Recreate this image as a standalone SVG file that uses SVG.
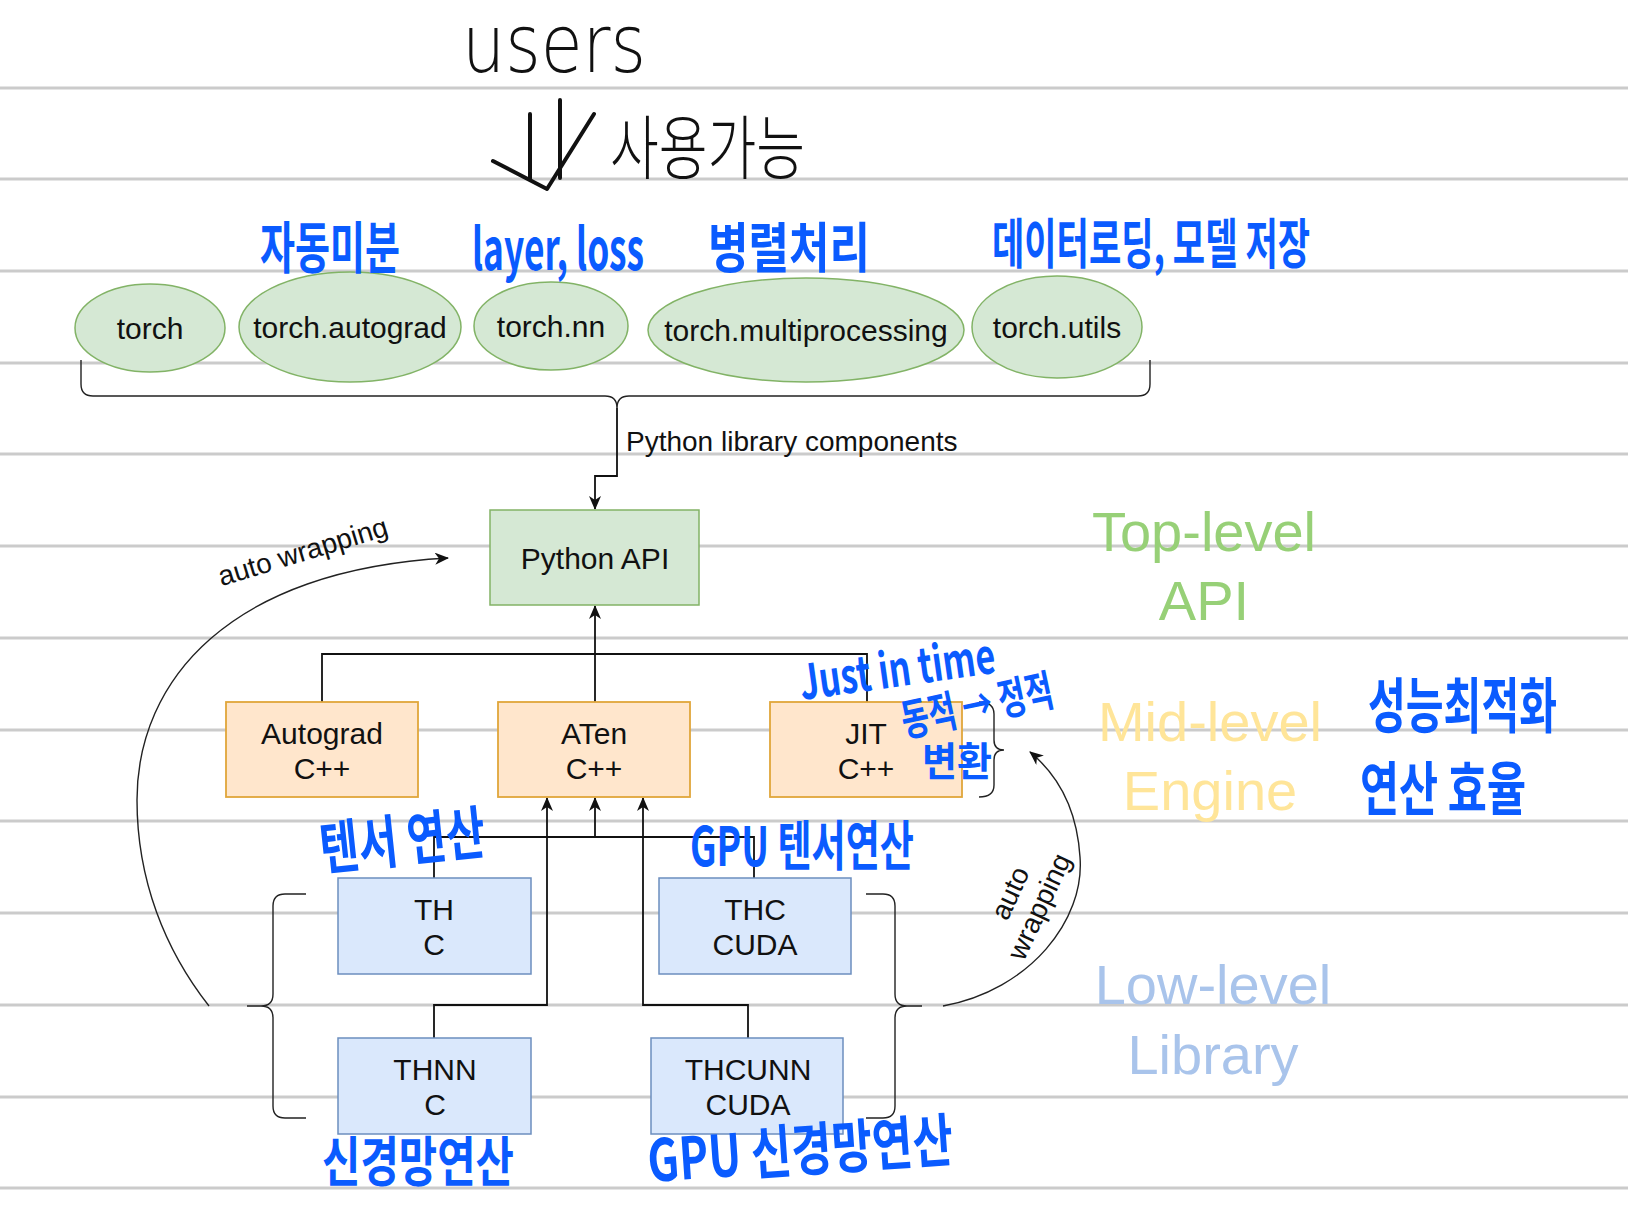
<svg xmlns="http://www.w3.org/2000/svg" width="1628" height="1219" viewBox="0 0 1628 1219">
<defs>
<style>
.rule{stroke:#cbcbcb;stroke-width:3}
.lbl{font-family:"Liberation Sans",Arial,sans-serif;font-size:30px;fill:#111;text-anchor:middle}
.ell{fill:#d5e8d4;stroke:#82b366;stroke-width:1.5}
.g{fill:#d5e8d4;stroke:#82b366;stroke-width:1.5}
.o{fill:#ffe6cc;stroke:#e0a63a;stroke-width:1.8}
.b{fill:#dae8fc;stroke:#6c8ebf;stroke-width:1.5}
.ln{fill:none;stroke:#111;stroke-width:1.8}
.thin{fill:none;stroke:#222;stroke-width:1.4}
.small{font-family:"Liberation Sans",Arial,sans-serif;font-size:28px;fill:#111}
.lvl{font-family:"Liberation Sans",Arial,sans-serif;font-size:56px;text-anchor:middle}
.hw{font-family:"Noto Sans CJK KR","Liberation Sans",sans-serif;font-weight:bold;fill:#0a5bff}
.hk{font-family:"Noto Sans CJK KR","Liberation Sans",sans-serif;font-weight:300;fill:#111}
.hu{font-family:"DejaVu Sans","Liberation Sans",sans-serif;font-weight:200;fill:#111}
</style>
<marker id="arr" viewBox="0 0 14 12" refX="13" refY="6" markerWidth="14" markerHeight="12" markerUnits="userSpaceOnUse" orient="auto">
<path d="M0,0 L14,6 L0,12 L4,6 z" fill="#111"/>
</marker>
</defs>
<rect x="0" y="0" width="1628" height="1219" fill="#ffffff"/>
<g id="rules">
<line class="rule" x1="0" y1="88" x2="1628" y2="88"/>
<line class="rule" x1="0" y1="179" x2="1628" y2="179"/>
<line class="rule" x1="0" y1="271" x2="1628" y2="271"/>
<line class="rule" x1="0" y1="363" x2="1628" y2="363"/>
<line class="rule" x1="0" y1="454" x2="1628" y2="454"/>
<line class="rule" x1="0" y1="546" x2="1628" y2="546"/>
<line class="rule" x1="0" y1="638" x2="1628" y2="638"/>
<line class="rule" x1="0" y1="730" x2="1628" y2="730"/>
<line class="rule" x1="0" y1="821" x2="1628" y2="821"/>
<line class="rule" x1="0" y1="913" x2="1628" y2="913"/>
<line class="rule" x1="0" y1="1005" x2="1628" y2="1005"/>
<line class="rule" x1="0" y1="1097" x2="1628" y2="1097"/>
<line class="rule" x1="0" y1="1188" x2="1628" y2="1188"/>
</g>

<g id="connectors">
<path class="thin" d="M81 360 L81 384 Q81 396 93 396 L605 396 Q617 396 617 408 Q617 396 629 396 L1138 396 Q1150 396 1150 384 L1150 360"/>
<path class="ln" d="M617 408 L617 476 L595 476 L595 509" marker-end="url(#arr)"/>
<path class="ln" d="M322 702 L322 654 L867 654 L867 702"/>
<path class="ln" d="M595 702 L595 606" marker-end="url(#arr)"/>
<path class="ln" d="M434 878 L434 837 L754 837 L754 878"/>
<path class="ln" d="M595 837 L595 798" marker-end="url(#arr)"/>
<path class="ln" d="M434 1038 L434 1005 L547 1005 L547 798" marker-end="url(#arr)"/>
<path class="ln" d="M748 1038 L748 1005 L643 1005 L643 798" marker-end="url(#arr)"/>
<path class="thin" d="M306 894 L285 894 Q273 894 273 906 L273 994 Q273 1006 261 1006 L247 1006 M261 1006 Q273 1006 273 1018 L273 1106 Q273 1118 285 1118 L306 1118"/>
<path class="thin" d="M866 894 L883 894 Q895 894 895 906 L895 994 Q895 1006 907 1006 L922 1006 M907 1006 Q895 1006 895 1018 L895 1106 Q895 1118 883 1118 L866 1118"/>
<path class="thin" d="M979 702 Q994 702 994 714 L994 740 Q994 750 1004 750 Q994 750 994 760 L994 785 Q994 797 979 797"/>
<path class="thin" d="M209 1006 C165 950 137 880 137 800 C137 680 230 570 448 558" marker-end="url(#arr)"/>
<path class="thin" d="M943 1006 C1030 990 1085 920 1080 857 C1077 810 1058 775 1030 752" marker-end="url(#arr)"/>
<text class="small" x="626" y="451" font-size="29.5">Python library components</text>
<text class="small" transform="translate(303 552) rotate(-17)" text-anchor="middle" y="9">auto wrapping</text>
<g transform="translate(1025 900) rotate(-65)">
<text class="small" text-anchor="middle" x="0" y="-7">auto</text>
<text class="small" text-anchor="middle" x="0" y="25">wrapping</text>
</g>
</g>

<g id="n-torch"><ellipse class="ell" cx="150" cy="328" rx="75" ry="44"/><text class="lbl" x="150" y="339">torch</text></g>
<g id="n-autograd"><ellipse class="ell" cx="350" cy="327" rx="111" ry="55"/><text class="lbl" x="350" y="338">torch.autograd</text></g>
<g id="n-nn"><ellipse class="ell" cx="551" cy="326" rx="77" ry="44"/><text class="lbl" x="551" y="337">torch.nn</text></g>
<g id="n-mp"><ellipse class="ell" cx="806" cy="330" rx="158" ry="52"/><text class="lbl" x="806" y="341">torch.multiprocessing</text></g>
<g id="n-utils"><ellipse class="ell" cx="1057" cy="327" rx="85" ry="51"/><text class="lbl" x="1057" y="338">torch.utils</text></g>

<g id="n-python-api"><rect class="g" x="490" y="510" width="209" height="95"/><text class="lbl" x="595" y="569">Python API</text></g>

<g id="n-autograd-cpp"><rect class="o" x="226" y="702" width="192" height="95"/><text class="lbl" x="322" y="744">Autograd</text><text class="lbl" x="322" y="779">C++</text></g>
<g id="n-aten"><rect class="o" x="498" y="702" width="192" height="95"/><text class="lbl" x="594" y="744">ATen</text><text class="lbl" x="594" y="779">C++</text></g>
<g id="n-jit"><rect class="o" x="770" y="702" width="192" height="95"/><text class="lbl" x="866" y="744">JIT</text><text class="lbl" x="866" y="779">C++</text></g>

<g id="n-th"><rect class="b" x="338" y="878" width="193" height="96"/><text class="lbl" x="434" y="920">TH</text><text class="lbl" x="434" y="955">C</text></g>
<g id="n-thc"><rect class="b" x="659" y="878" width="192" height="96"/><text class="lbl" x="755" y="920">THC</text><text class="lbl" x="755" y="955">CUDA</text></g>
<g id="n-thnn"><rect class="b" x="338" y="1038" width="193" height="96"/><text class="lbl" x="435" y="1080">THNN</text><text class="lbl" x="435" y="1115">C</text></g>
<g id="n-thcunn"><rect class="b" x="651" y="1038" width="192" height="96"/><text class="lbl" x="748" y="1080">THCUNN</text><text class="lbl" x="748" y="1115">CUDA</text></g>

<g id="levels">
<text class="lvl" fill="#97d077" x="1204" y="551">Top-level</text>
<text class="lvl" fill="#97d077" x="1204" y="620">API</text>
<text class="lvl" fill="#ffe599" x="1210" y="741">Mid-level</text>
<text class="lvl" fill="#ffe599" x="1210" y="810">Engine</text>
<text class="lvl" fill="#a9c4eb" x="1213" y="1004">Low-level</text>
<text class="lvl" fill="#a9c4eb" x="1213" y="1074">Library</text>
</g>

<g id="annotations">
<text class="hu" x="462" y="72" font-size="80" textLength="184" lengthAdjust="spacingAndGlyphs">users</text>
<path d="M530 114 L530 180 M560 100 L560 178 M493 161 L547 189 L594 114" fill="none" stroke="#111" stroke-width="4" stroke-linecap="round" stroke-linejoin="round"/>
<text class="hk" x="610" y="174" font-size="70" textLength="195" lengthAdjust="spacingAndGlyphs">사용가능</text>
<text class="hw" x="260" y="268" font-size="56" textLength="140" lengthAdjust="spacingAndGlyphs">자동미분</text>
<text class="hw" x="472" y="270" font-size="58" textLength="172" lengthAdjust="spacingAndGlyphs">layer, loss</text>
<text class="hw" x="708" y="268" font-size="54" textLength="162" lengthAdjust="spacingAndGlyphs">병렬처리</text>
<text class="hw" x="992" y="264" font-size="54" textLength="318" lengthAdjust="spacingAndGlyphs">데이터로딩, 모델 저장</text>
<text class="hw" transform="translate(802 700) rotate(-8)" font-size="48" textLength="197" lengthAdjust="spacingAndGlyphs">Just in time</text>
<text class="hw" transform="translate(905 737) rotate(-12)" font-size="44" textLength="154" lengthAdjust="spacingAndGlyphs">동적 → 정적</text>
<text class="hw" x="922" y="776" font-size="40" textLength="70" lengthAdjust="spacingAndGlyphs">변환</text>
<text class="hw" x="1368" y="728" font-size="60" textLength="189" lengthAdjust="spacingAndGlyphs">성능최적화</text>
<text class="hw" x="1360" y="810" font-size="58" textLength="166" lengthAdjust="spacingAndGlyphs">연산 효율</text>
<text class="hw" transform="translate(322 870) rotate(-6)" font-size="58" textLength="166" lengthAdjust="spacingAndGlyphs">텐서 연산</text>
<text class="hw" x="690" y="866" font-size="54" textLength="224" lengthAdjust="spacingAndGlyphs">GPU 텐서연산</text>
<text class="hw" x="322" y="1182" font-size="54" textLength="192" lengthAdjust="spacingAndGlyphs">신경망연산</text>
<text class="hw" transform="translate(649 1182) rotate(-4)" font-size="58" textLength="306" lengthAdjust="spacingAndGlyphs">GPU 신경망연산</text>
</g>
</svg>
